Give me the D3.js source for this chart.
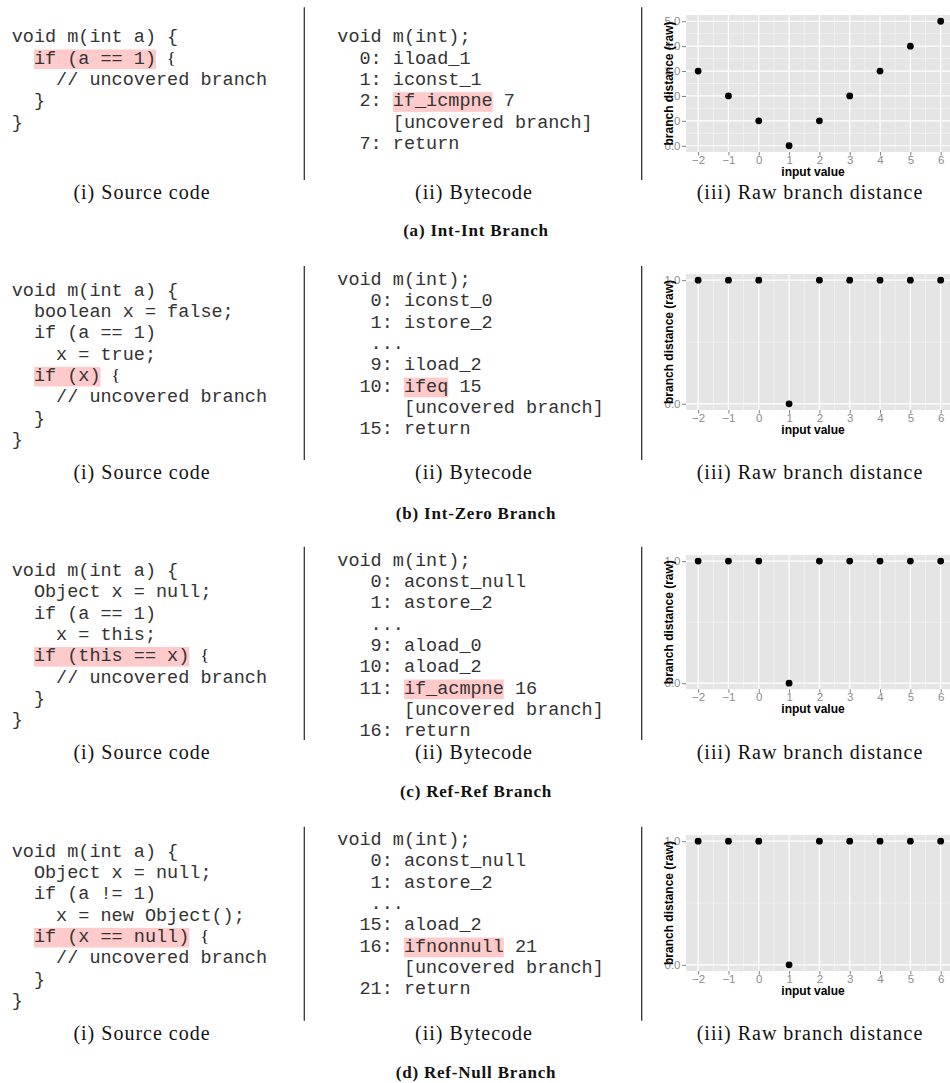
<!DOCTYPE html>
<html>
<head>
<meta charset="utf-8">
<script src="https://cdn.jsdelivr.net/npm/d3@7"></script>
<style>
  body { margin: 0; background: #fff; }
  text { white-space: pre; }
</style>
</head>
<body>
<svg id="fig" width="950" height="1083"></svg>
<script>
// Eingabewerte und rohe Branch-Distanzen
const inputValues = [-2, -1, 0, 1, 2, 3, 4, 5, 6];
const distIntInt = [3, 2, 1, 0, 1, 2, 3, 4, 5];
const distIntZero = [1, 1, 1, 0, 1, 1, 1, 1, 1];
const distRefRef = [1, 1, 1, 0, 1, 1, 1, 1, 1];
const distRefNull = [1, 1, 1, 0, 1, 1, 1, 1, 1];

const xTicks = [-2, -1, 0, 1, 2, 3, 4, 5, 6];
const yTicksIntInt = [0, 1, 2, 3, 4, 5];
const yTicksBinary = [0, 1];

const subCaptions = ["(a) Int-Int Branch", "(b) Int-Zero Branch", "(c) Ref-Ref Branch", "(d) Ref-Null Branch"];
const captionSource = "(i) Source code";
const captionBytecode = "(ii) Bytecode";
const captionChart = "(iii) Raw branch distance";
const xTitle = "input value";
const yTitle = "branch distance (raw)";

// Quelltext und Bytecode
const srcIntInt = ["void m(int a) {", "  if (a == 1) {", "    // uncovered branch", "  }", "}"];
const srcIntZero = ["void m(int a) {", "  boolean x = false;", "  if (a == 1)", "    x = true;", "  if (x) {", "    // uncovered branch", "  }", "}"];
const srcRefRef = ["void m(int a) {", "  Object x = null;", "  if (a == 1)", "    x = this;", "  if (this == x) {", "    // uncovered branch", "  }", "}"];
const srcRefNull = ["void m(int a) {", "  Object x = null;", "  if (a != 1)", "    x = new Object();", "  if (x == null) {", "    // uncovered branch", "  }", "}"];

const bcIntInt = ["void m(int);", "  0: iload_1", "  1: iconst_1", "  2: if_icmpne 7", "     [uncovered branch]", "  7: return"];
const bcIntZero = ["void m(int);", "   0: iconst_0", "   1: istore_2", "   ...", "   9: iload_2", "  10: ifeq 15", "      [uncovered branch]", "  15: return"];
const bcRefRef = ["void m(int);", "   0: aconst_null", "   1: astore_2", "   ...", "   9: aload_0", "  10: aload_2", "  11: if_acmpne 16", "      [uncovered branch]", "  16: return"];
const bcRefNull = ["void m(int);", "   0: aconst_null", "   1: astore_2", "   ...", "  15: aload_2", "  16: ifnonnull 21", "      [uncovered branch]", "  21: return"];

// markierte Stellen
const srcMarks = ["if (a == 1)", "if (x)", "if (this == x)", "if (x == null)"];
const bcMarks = ["if_icmpne", "ifeq", "if_acmpne", "ifnonnull"];

// Layout der vier Zeilen
const rows = [
  { src: srcIntInt, bc: bcIntInt, dist: distIntInt, yTicks: yTicksIntInt, srcY: 42.3, bcY: 42.3, capY: 199, subY: 236, sepTop: 7.3, sepBot: 180, top: 15, bottom: 152 },
  { src: srcIntZero, bc: bcIntZero, dist: distIntZero, yTicks: yTicksBinary, srcY: 295.6, bcY: 285, capY: 478.5, subY: 519, sepTop: 266, sepBot: 460, top: 274, bottom: 410 },
  { src: srcRefRef, bc: bcRefRef, dist: distRefRef, yTicks: yTicksBinary, srcY: 575.8, bcY: 565.6, capY: 758.5, subY: 797, sepTop: 546.7, sepBot: 740, top: 555, bottom: 689.3 },
  { src: srcRefNull, bc: bcRefNull, dist: distRefNull, yTicks: yTicksBinary, srcY: 856.6, bcY: 845, capY: 1040, subY: 1078, sepTop: 826.7, sepBot: 1020.7, top: 835, bottom: 971 }
];

const CODE_SIZE = 18.5, CHAR_W = 11.1, LINE_H = 21.35;
const SRC_X = 11.7, BC_X = 337.3;
const SANS = "'Liberation Sans', Arial, sans-serif";
const SERIF = "'Liberation Serif', 'Times New Roman', serif";
const MONO = "'Liberation Mono', 'Courier New', monospace";

const svg = d3.select("#fig");
svg.append("rect").attr("width", 950).attr("height", 1083).attr("fill", "#fff");

function drawCode(g, lines, x0, y0, mark, serifBrace) {
  const li = lines.findIndex(l => l.includes(mark));
  const start = lines[li].indexOf(mark);
  g.append("rect")
    .attr("x", x0 + start * CHAR_W)
    .attr("y", y0 + li * LINE_H - 14.2)
    .attr("width", mark.length * CHAR_W)
    .attr("height", 19.7)
    .attr("fill", "#ffcaca");

  lines.forEach((l, i) => {
    const t = g.append("text")
      .attr("x", x0)
      .attr("y", y0 + i * LINE_H)
      .style("font-family", MONO)
      .style("font-size", CODE_SIZE + "px")
      .attr("fill", "#333");
    // geschweifte Klammer nach der Markierung in Serifenschrift
    if (serifBrace && i === li && l.endsWith("{")) {
      t.append("tspan").text(l.slice(0, -1).trimEnd());
      t.append("tspan")
        .attr("x", x0 + (l.length - 1) * CHAR_W)
        .style("font-family", SERIF)
        .style("font-size", "17.5px")
        .attr("fill", "#111")
        .text("{");
    } else {
      t.text(l);
    }
  });
}

function caption(g, txt, cx, y) {
  g.append("text")
    .attr("x", cx).attr("y", y)
    .attr("text-anchor", "middle")
    .style("font-family", SERIF)
    .style("font-size", "20px")
    .style("letter-spacing", "1px")
    .attr("fill", "#111")
    .text(txt);
}

function drawChart(g, values, yTicks, top, bottom) {
  const x = d3.scaleLinear().domain([-2.4, 6.4]).range([686, 952.8]);
  const ymax = d3.max(yTicks);
  const y = d3.scaleLinear().domain([-0.05 * ymax, ymax * 1.05]).range([bottom, top]);

  g.append("rect")
    .attr("x", x.range()[0]).attr("y", top)
    .attr("width", x.range()[1] - x.range()[0]).attr("height", bottom - top)
    .attr("fill", "#e5e5e5");

  const xMinor = d3.pairs(xTicks).map(([a, b]) => (a + b) / 2);
  const yMinor = d3.pairs(yTicks).map(([a, b]) => (a + b) / 2);

  g.selectAll("line.xminor").data(xMinor).enter().append("line")
    .attr("x1", d => x(d)).attr("x2", d => x(d)).attr("y1", top).attr("y2", bottom)
    .attr("stroke", "#f2f2f2").attr("stroke-width", 0.8);
  g.selectAll("line.yminor").data(yMinor).enter().append("line")
    .attr("x1", x.range()[0]).attr("x2", x.range()[1]).attr("y1", d => y(d)).attr("y2", d => y(d))
    .attr("stroke", "#f2f2f2").attr("stroke-width", 0.8);
  g.selectAll("line.xmajor").data(xTicks).enter().append("line")
    .attr("x1", d => x(d)).attr("x2", d => x(d)).attr("y1", top).attr("y2", bottom)
    .attr("stroke", "#fff").attr("stroke-width", 1.2);
  g.selectAll("line.ymajor").data(yTicks).enter().append("line")
    .attr("x1", x.range()[0]).attr("x2", x.range()[1]).attr("y1", d => y(d)).attr("y2", d => y(d))
    .attr("stroke", "#fff").attr("stroke-width", 1.2);

  g.selectAll("circle").data(inputValues).enter().append("circle")
    .attr("cx", d => x(d))
    .attr("cy", (d, i) => y(values[i]))
    .attr("r", 3.4)
    .attr("fill", "#000");

  const xAxis = g.append("g")
    .attr("transform", `translate(0,${bottom})`)
    .call(d3.axisBottom(x).tickValues(xTicks).tickSize(3.5).tickPadding(0.3));
  const yAxis = g.append("g")
    .attr("transform", `translate(${x.range()[0]},0)`)
    .call(d3.axisLeft(y).tickValues(yTicks).tickSize(4).tickPadding(1.5));

  [xAxis, yAxis].forEach(ax => {
    ax.select(".domain").remove();
    ax.selectAll(".tick line").attr("stroke", "#7f7f7f");
    ax.selectAll(".tick text")
      .attr("fill", "#8c8c8c")
      .style("font-family", SANS)
      .style("font-size", "11.5px");
  });

  g.append("text")
    .attr("x", 813).attr("y", bottom + 23.5)
    .attr("text-anchor", "middle")
    .style("font-family", SANS).style("font-size", "12px").style("font-weight", "bold")
    .text(xTitle);

  g.append("text")
    .attr("transform", `translate(673,${(top + bottom) / 2}) rotate(-90)`)
    .attr("text-anchor", "middle")
    .style("font-family", SANS).style("font-size", "12px").style("font-weight", "bold")
    .text(yTitle);
}

rows.forEach((r, k) => {
  const g = svg.append("g");

  drawCode(g, r.src, SRC_X, r.srcY, srcMarks[k], true);
  drawCode(g, r.bc, BC_X, r.bcY, bcMarks[k], false);

  // Trennlinien
  [304.3, 641.7].forEach(sx => {
    g.append("line")
      .attr("x1", sx).attr("x2", sx).attr("y1", r.sepTop).attr("y2", r.sepBot)
      .attr("stroke", "#333").attr("stroke-width", 1.3);
  });

  const cg = g.append("g");
  drawChart(cg, r.dist, r.yTicks, r.top, r.bottom);

  caption(g, captionSource, 142, r.capY);
  caption(g, captionBytecode, 474, r.capY);
  caption(g, captionChart, 810, r.capY);

  g.append("text")
    .attr("x", 476).attr("y", r.subY)
    .attr("text-anchor", "middle")
    .style("font-family", SERIF)
    .style("font-size", "17px")
    .style("font-weight", "bold")
    .style("letter-spacing", "0.8px")
    .attr("fill", "#111")
    .text(subCaptions[k]);
});
</script>
</body>
</html>
